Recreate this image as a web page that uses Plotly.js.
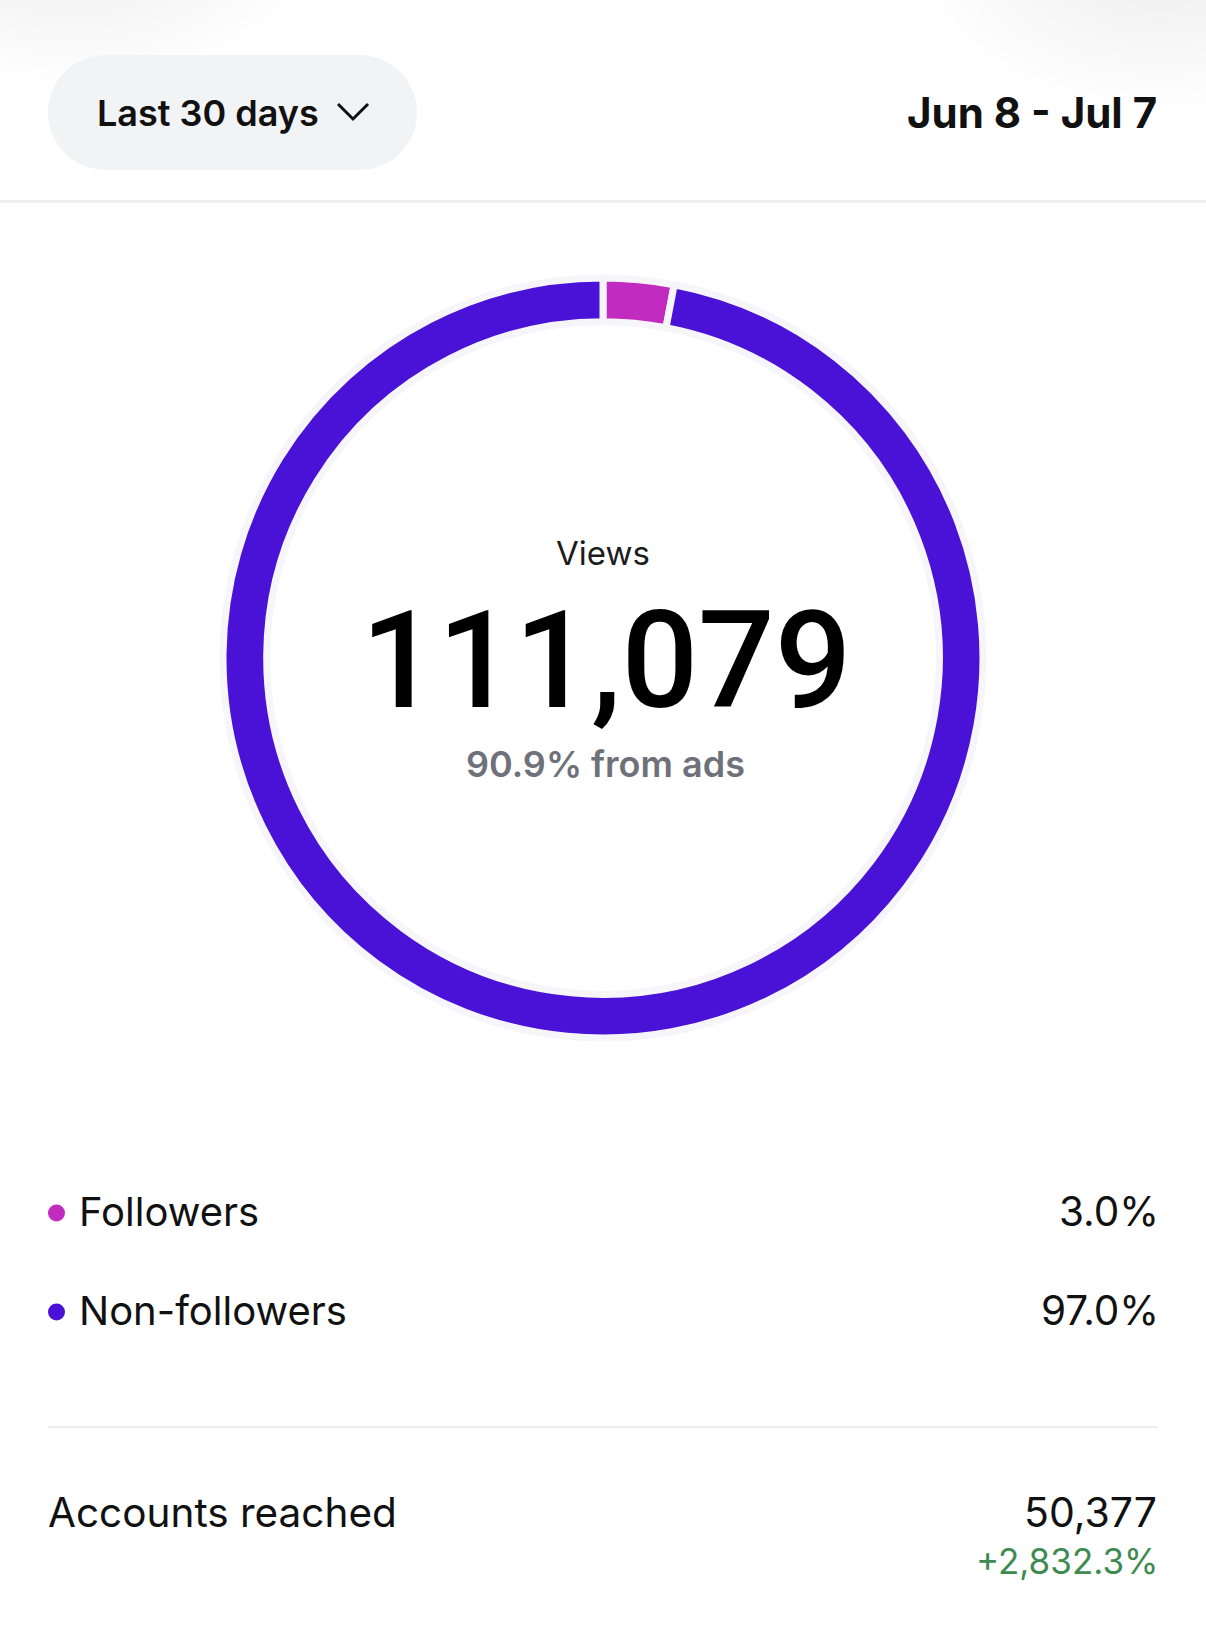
<!DOCTYPE html>
<html>
<head>
<meta charset="utf-8">
<script src="https://cdn.plot.ly/plotly-3.0.1.min.js"></script>
<style>
html,body{margin:0;padding:0;background:#ffffff;}
#chart{width:1206px;height:1641px;}
</style>
</head>
<body>
<div id="chart"></div>
<script>
// ---- data ----
const categories = ['Followers', 'Non-followers'];
const shares = [3.0, 97.0];
const sliceColors = ['#c22bbf', '#4a12d6'];
const metricLabel = 'Views';
const totalViews = 111079;
const adsShare = 90.9;
const accountsLabel = 'Accounts reached';
const accountsReached = 50377;
const accountsChange = 2832.3;
const periodLabel = 'Last 30 days';
const dateRange = 'Jun 8 - Jul 7';

// ---- helpers (pixel -> paper) ----
const W = 1206, H = 1641;
const px = x => x / W;
const py = y => 1 - y / H;
const FONT = 'Inter, "Noto Sans", "DejaVu Sans", sans-serif';
const NUMFONT = 'Roboto, Inter, sans-serif';
const fmt = (v, d) => v.toLocaleString('en-US', {minimumFractionDigits: d || 0, maximumFractionDigits: d || 0});

// donut geometry
const cx = 603, cy = 658, R = 380;

const pie = {
  type: 'pie',
  labels: categories,
  values: shares,
  sort: false,
  direction: 'clockwise',
  rotation: 0,
  hole: 0.885,
  textinfo: 'none',
  hoverinfo: 'label+percent',
  showlegend: false,
  marker: {colors: sliceColors, line: {color: '#f6f6fa', width: 7}},
  domain: {x: [px(cx - R), px(cx + R)], y: [py(cy + R), py(cy - R)]}
};

const shapes = [];
const annotations = [];

// faint top shadows (soft, many low-opacity layers)
for (let i = 0; i < 14; i++) {
  const r = 60 + i * 14;
  const o = 0.005;
  shapes.push({type: 'circle', xref: 'paper', yref: 'paper', layer: 'below',
    x0: px(70 - r), x1: px(70 + r), y0: py(-50 + r * 0.55), y1: py(-50 - r * 0.55),
    fillcolor: 'rgba(0,0,0,' + o + ')', line: {width: 0}});
  shapes.push({type: 'circle', xref: 'paper', yref: 'paper', layer: 'below',
    x0: px(1160 - r), x1: px(1160 + r), y0: py(-40 + r * 0.62), y1: py(-40 - r * 0.62),
    fillcolor: 'rgba(0,0,0,' + o + ')', line: {width: 0}});
}

// pill button
const pill = {x0: 48, x1: 417, y0: 55, y1: 170, fill: '#f2f3f5'};
const pr = (pill.y1 - pill.y0) / 2;
shapes.push({type: 'rect', xref: 'paper', yref: 'paper', x0: px(pill.x0 + pr), x1: px(pill.x1 - pr), y0: py(pill.y1), y1: py(pill.y0), fillcolor: pill.fill, line: {width: 0}});
shapes.push({type: 'circle', xref: 'paper', yref: 'paper', x0: px(pill.x0), x1: px(pill.x0 + 2 * pr), y0: py(pill.y1), y1: py(pill.y0), fillcolor: pill.fill, line: {width: 0}});
shapes.push({type: 'circle', xref: 'paper', yref: 'paper', x0: px(pill.x1 - 2 * pr), x1: px(pill.x1), y0: py(pill.y1), y1: py(pill.y0), fillcolor: pill.fill, line: {width: 0}});
// chevron
shapes.push({type: 'path', xref: 'paper', yref: 'paper',
  path: 'M ' + px(338) + ' ' + py(104) + ' L ' + px(353) + ' ' + py(119) + ' L ' + px(368) + ' ' + py(104),
  line: {color: '#111111', width: 3}});

// top divider
shapes.push({type: 'rect', xref: 'paper', yref: 'paper', x0: 0, x1: 1, y0: py(203), y1: py(200), fillcolor: '#eff0f2', line: {width: 0}});
// bottom divider
shapes.push({type: 'rect', xref: 'paper', yref: 'paper', x0: px(48), x1: px(1158), y0: py(1428), y1: py(1426), fillcolor: '#ededf0', line: {width: 0}});

function txt(text, x, y, size, color, weight, xanchor, family) {
  annotations.push({xref: 'paper', yref: 'paper', x: px(x), y: py(y), text: text, showarrow: false,
    xanchor: xanchor || 'center', yanchor: 'middle',
    font: {family: family || FONT, size: size, color: color, weight: weight || 400}});
}

// header
txt(periodLabel, 95, 113, 36, '#111111', 600, 'left');
txt(dateRange, 1159, 112, 42, '#111111', 700, 'right');

// centre of donut
txt(metricLabel, 603, 553, 33, '#1c1c1c', 400);
txt(fmt(totalViews), 606, 661, 135, '#000000', 500, 'center', NUMFONT);
txt(fmt(adsShare, 1) + '% from ads', 605, 764, 36, '#6e7179', 600);

// legend rows
const rowY = [1213, 1312];
categories.forEach((c, i) => {
  const y = rowY[i];
  shapes.push({type: 'circle', xref: 'paper', yref: 'paper', x0: px(48), x1: px(65), y0: py(y + 8.5), y1: py(y - 8.5), fillcolor: sliceColors[i], line: {width: 0}});
  txt(c, 77, y - 1.5, 40, '#111111', 400, 'left');
  txt(fmt(shares[i], 1) + '%', 1161, y - 1.5, 40.5, '#111111', 400, 'right');
});

// accounts reached
txt(accountsLabel, 46, 1512, 40.5, '#111111', 400, 'left');
txt(fmt(accountsReached), 1159, 1512, 41, '#111111', 400, 'right');
txt('+' + fmt(accountsChange, 1) + '%', 1160, 1561, 35, '#3d8b50', 400, 'right');

const layout = {
  width: W, height: H,
  margin: {l: 0, r: 0, t: 0, b: 0},
  paper_bgcolor: '#ffffff',
  plot_bgcolor: '#ffffff',
  showlegend: false,
  shapes: shapes,
  annotations: annotations,
  font: {family: FONT}
};

Plotly.newPlot('chart', [pie], layout, {displayModeBar: false, staticPlot: true});
</script>
</body>
</html>
